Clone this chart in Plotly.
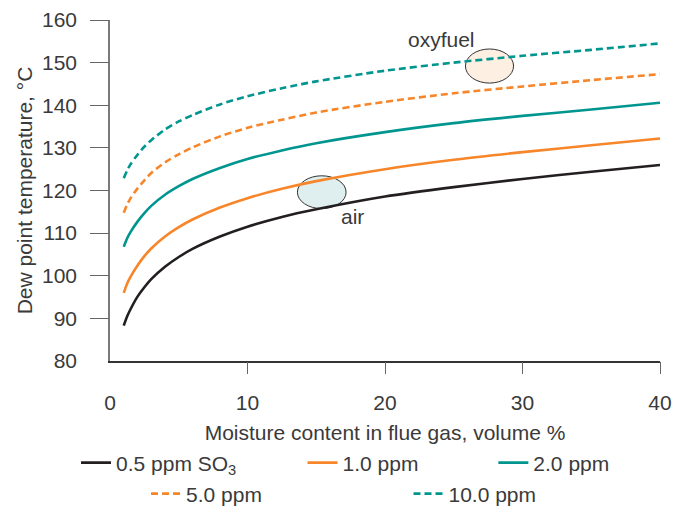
import plotly.graph_objects as go

# Moisture content in flue gas, volume %
moisture = [1, 1.25, 1.5, 2, 2.5, 3, 4, 5, 6, 8, 10, 12.5, 15, 20, 25, 30, 35, 40]

# Dew point temperature, °C for each SO3 concentration
dp_05 = [88.3, 90.5, 92.2, 95.1, 97.3, 99.2, 102.1, 104.4, 106.3, 109.2, 111.5, 113.8, 115.6, 118.6, 120.8, 122.7, 124.4, 126.0]
dp_10 = [96.0, 98.2, 99.8, 102.4, 104.6, 106.4, 109.2, 111.4, 113.2, 116.0, 118.2, 120.4, 122.2, 125.0, 127.2, 129.0, 130.6, 132.2]
dp_20 = [106.8, 108.8, 110.3, 112.7, 114.7, 116.4, 119.0, 121.0, 122.7, 125.3, 127.4, 129.4, 131.1, 133.7, 135.8, 137.5, 139.0, 140.6]
dp_50 = [114.8, 116.7, 118.2, 120.5, 122.4, 124.1, 126.6, 128.5, 130.1, 132.7, 134.7, 136.6, 138.3, 140.8, 142.8, 144.4, 145.9, 147.3]
dp_100 = [122.9, 124.7, 126.2, 128.4, 130.3, 131.8, 134.3, 136.2, 137.7, 140.2, 142.1, 144.0, 145.6, 148.1, 150.0, 151.6, 153.0, 154.5]

series_names = ["0.5 ppm SO<sub>3</sub>", "1.0 ppm", "2.0 ppm", "5.0 ppm", "10.0 ppm"]
series_values = [dp_05, dp_10, dp_20, dp_50, dp_100]
series_colors = ["#231f20", "#f7862a", "#00968f", "#f7862a", "#00968f"]
series_dash = ["solid", "solid", "solid", "7px,4px", "7px,4px"]

x_ticks = [0, 10, 20, 30, 40]
y_ticks = [80, 90, 100, 110, 120, 130, 140, 150, 160]

# Regions: (label, x centre, y centre, x half-width, y half-height, fill)
regions = [
    ("oxyfuel", 27.6, 149.2, 1.75, 4.0, "#fdefe2"),
    ("air", 15.4, 119.6, 1.77, 3.85, "#dfeeee"),
]
region_labels = [("oxyfuel", 24.1, 155.5), ("air", 17.6, 113.9)]

FONT = "Liberation Sans, Arial, sans-serif"
TXT = "#3a3a3a"
FS = 21

fig = go.Figure()

legend_pos = [(-0.0618, -0.299), (0.350, -0.299), (0.697, -0.299),
              (0.0655, -0.39), (0.5427, -0.39)]

for i, (name, vals, col, dash) in enumerate(zip(series_names, series_values, series_colors, series_dash)):
    lg = "legend" if i == 0 else f"legend{i+1}"
    fig.add_trace(go.Scatter(
        x=moisture, y=vals, mode="lines", name=name,
        line=dict(color=col, width=2.6, dash=dash, shape="spline", smoothing=0.8),
        legend=lg, hoverinfo="skip",
    ))

# invisible trace for tick-only overlay axes
fig.add_trace(go.Scatter(x=[0, 40], y=[80, 160], xaxis="x2", yaxis="y2",
                         mode="markers", marker=dict(opacity=0), showlegend=False,
                         hoverinfo="skip"))

for (lbl, cx, cy, rx, ry, fill) in regions:
    fig.add_shape(type="circle", xref="x", yref="y",
                  x0=cx - rx, x1=cx + rx, y0=cy - ry, y1=cy + ry,
                  fillcolor=fill, line=dict(color="#333333", width=1), layer="below")

for (lbl, x, y) in region_labels:
    fig.add_annotation(x=x, y=y, xref="x", yref="y", text=lbl, showarrow=False,
                       font=dict(family=FONT, size=FS, color=TXT))

legends = {}
for i, (lx, ly) in enumerate(legend_pos):
    key = "legend" if i == 0 else f"legend{i+1}"
    legends[key] = dict(x=lx, y=ly, xanchor="left", yanchor="middle",
                        orientation="h", bgcolor="rgba(0,0,0,0)",
                        font=dict(family=FONT, size=FS, color=TXT))

fig.update_layout(
    width=687, height=508,
    margin=dict(l=110, r=27, t=20, b=147, autoexpand=False),
    plot_bgcolor="white", paper_bgcolor="white",
    font=dict(family=FONT, size=FS, color=TXT),
    showlegend=True,
    xaxis=dict(range=[0, 40], tickvals=x_ticks, ticks="", showgrid=False, zeroline=False,
               showline=True, linecolor="#333333", linewidth=1.5,
               ticklabelstandoff=22,
               title=dict(text="Moisture content in flue gas, volume %", standoff=12,
                          font=dict(family=FONT, size=FS, color=TXT)),
               tickfont=dict(family=FONT, size=FS, color=TXT)),
    yaxis=dict(range=[80, 160], tickvals=y_ticks, ticks="", showgrid=False, zeroline=False,
               showline=True, linecolor="#7a7a7a", linewidth=1.5,
               ticklabelstandoff=27,
               title=dict(text="Dew point temperature, °C", standoff=4,
                          font=dict(family=FONT, size=FS, color=TXT)),
               tickfont=dict(family=FONT, size=FS, color=TXT)),
    xaxis2=dict(range=[0, 40], overlaying="x", anchor="y", side="bottom",
                tickvals=x_ticks[1:], ticks="outside", ticklen=12, tickcolor="#666666",
                tickwidth=1.2, showticklabels=False, showgrid=False, zeroline=False,
                showline=False),
    yaxis2=dict(range=[80, 160], overlaying="y", anchor="x", side="left",
                tickvals=y_ticks[1:], ticks="outside", ticklen=19, tickcolor="#666666",
                tickwidth=1.2, showticklabels=False, showgrid=False, zeroline=False,
                showline=False),
    **legends,
)

fig.write_html("out.html", config={"displayModeBar": False},
               post_script="document.body.style.margin='0';")
